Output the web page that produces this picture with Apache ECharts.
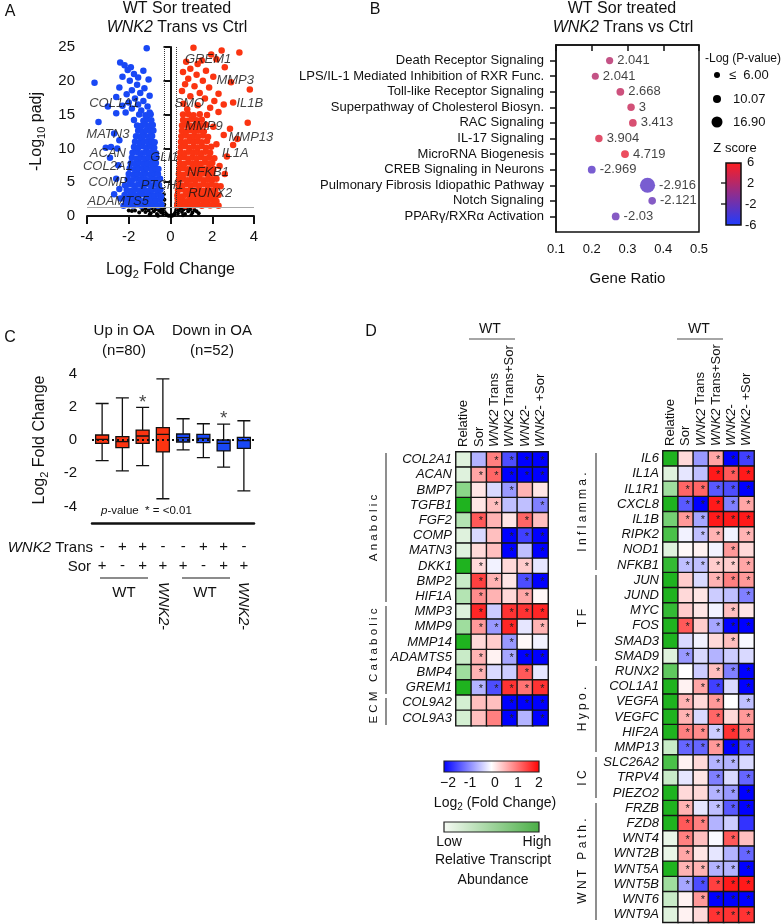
<!DOCTYPE html>
<html>
<head>
<meta charset="utf-8">
<script src="https://cdn.jsdelivr.net/npm/echarts@6/dist/echarts.min.js"></script>
<style>
  html, body { margin: 0; padding: 0; background: #fff; }
  #chart { width: 781px; height: 924px; }
</style>
</head>
<body>
<div id="chart"></div>
<script>
const FONT = "'Liberation Sans', Arial, sans-serif"

// ---------- A: volcano ----------
const downGenes = [
  [-1.14,24.8],[-2.41,22.7],[-2.2,22.3],[-2.05,21.6],[-1.9,22.0],[-1.3,21.5],[-1.75,21.0],[-1.55,20.5],[-1.05,20.2],[-2.3,20.6],
  [-1.95,20.0],[-3.64,19.7],[-1.6,19.4],[-2.45,19.0],[-1.25,18.9],[-1.85,18.6],[-1.45,18.2],[-2.1,18.0],[-1.0,17.8],[-2.6,17.6],
  [-1.7,17.4],[-3.0,16.2],[-1.3,17.0],[-2.0,16.8],[-1.55,16.5],[-2.3,16.3],[-1.1,16.2],[-1.85,15.9],[-3.45,13.9],[-2.6,15.2],
  [-1.4,15.6],[-2.15,15.3],[-1.0,15.3],[-3.1,10.1],[-2.85,10.2],[-2.55,10.0],[-2.9,8.6],[-2.7,12.2],[-2.45,11.2],[-2.5,7.5],
  [-2.6,5.5],[-2.45,4.0],[-2.4,2.6],[-2.7,3.2],
  [-2.25,1.5],[-2.02,1.7],[-1.8,1.55],[-1.6,1.8],[-1.4,1.5],[-1.2,1.75],[-1.0,1.55],[-0.8,1.7],[-0.6,1.5],[-0.42,1.65],
  [-2.15,2.35],[-1.93,2.2],[-1.72,2.45],[-1.5,2.3],[-1.3,2.2],[-1.1,2.45],[-0.9,2.3],[-0.7,2.25],[-0.5,2.4],
  [-2.2,3.1],[-1.98,2.95],[-1.78,3.15],[-1.55,3.0],[-1.35,3.2],[-1.15,2.95],[-0.95,3.1],[-0.75,3.0],[-0.56,3.15],[-0.44,2.9],
  [-2.1,3.85],[-1.9,3.7],[-1.68,3.9],[-1.48,3.75],[-1.28,3.95],[-1.08,3.7],[-0.88,3.85],[-0.66,3.8],[-0.48,3.9],
  [-2.18,4.55],[-1.95,4.7],[-1.75,4.5],[-1.55,4.65],[-1.35,4.55],[-1.15,4.7],[-0.95,4.5],[-0.75,4.65],[-0.55,4.6],
  [-2.05,5.45],[-1.85,5.3],[-1.62,5.5],[-1.42,5.35],[-1.22,5.45],[-1.02,5.3],[-0.82,5.5],[-0.62,5.35],[-0.5,5.5],
  [-2.0,6.2],[-1.78,6.1],[-1.58,6.3],[-1.38,6.15],[-1.18,6.25],[-0.98,6.1],[-0.78,6.3],[-0.6,6.2],
  [-1.95,7.05],[-1.72,6.9],[-1.52,7.1],[-1.32,6.95],[-1.12,7.05],[-0.92,6.9],[-0.72,7.1],[-0.58,6.95],
  [-1.9,7.8],[-1.7,7.7],[-1.5,7.9],[-1.3,7.75],[-1.1,7.85],[-0.9,7.7],[-0.7,7.85],
  [-1.85,8.6],[-1.65,8.5],[-1.45,8.7],[-1.25,8.55],[-1.05,8.65],[-0.88,8.5],[-0.68,8.65],
  [-1.82,9.35],[-1.6,9.45],[-1.4,9.3],[-1.2,9.45],[-1.0,9.35],[-0.82,9.5],[-0.7,9.3],
  [-1.75,10.2],[-1.55,10.1],[-1.35,10.3],[-1.15,10.15],[-0.95,10.25],[-0.78,10.1],
  [-1.7,11.0],[-1.5,10.9],[-1.3,11.1],[-1.1,10.95],[-0.9,11.05],[-0.76,10.9],
  [-1.65,11.8],[-1.45,11.7],[-1.25,11.9],[-1.05,11.75],[-0.88,11.85],
  [-1.55,12.6],[-1.35,12.5],[-1.15,12.7],[-0.95,12.55],[-0.82,12.65],
  [-1.6,13.4],[-1.4,13.3],[-1.2,13.5],[-1.0,13.35],[-0.85,13.45],
  [-1.75,14.2],[-1.3,14.1],[-1.1,14.3],[-0.92,14.15],
  [-1.5,15.0],[-1.2,14.9],[-0.95,15.05]
]
const upGenes = [
  [1.1,24.9],[2.45,24.5],[3.3,24.2],[1.95,23.9],[2.2,23.2],[1.5,23.0],[0.75,22.8],[1.3,22.5],[2.6,22.0],[0.95,21.8],
  [1.7,21.5],[0.6,21.3],[1.25,20.9],[2.05,20.6],[0.85,20.3],[1.55,20.0],[2.9,19.8],[0.7,19.5],[1.15,19.2],[1.85,19.0],
  [3.8,18.7],[0.55,18.5],[1.4,18.2],[2.3,18.1],[0.95,17.7],[1.65,17.4],[2.1,17.0],[3.0,16.8],[0.62,16.6],[1.3,16.4],
  [2.55,16.5],[1.9,16.0],[0.8,15.8],[2.3,15.4],[3.7,13.8],[2.85,12.9],[3.2,11.4],[2.55,12.0],[3.0,10.5],[2.7,8.8],
  [2.4,4.4],[2.6,6.2],[2.2,2.2],[2.05,13.2],[2.2,10.6],[2.35,7.4],
  [0.32,1.55],[0.5,1.7],[0.7,1.5],[0.9,1.75],[1.1,1.55],[1.3,1.7],[1.5,1.5],[1.7,1.75],[1.9,1.55],[2.1,1.7],[2.3,1.5],
  [0.35,2.3],[0.55,2.45],[0.75,2.2],[0.95,2.4],[1.15,2.25],[1.35,2.45],[1.55,2.3],[1.75,2.2],[1.95,2.4],[2.15,2.3],
  [0.33,3.05],[0.52,2.9],[0.72,3.15],[0.92,3.0],[1.12,3.1],[1.32,2.95],[1.52,3.15],[1.72,3.0],[1.92,3.1],[2.12,2.95],[2.3,3.1],
  [0.36,3.8],[0.56,3.95],[0.76,3.7],[0.96,3.9],[1.16,3.75],[1.36,3.9],[1.56,3.7],[1.76,3.85],[1.96,3.75],[2.15,3.9],
  [0.38,4.6],[0.58,4.5],[0.78,4.7],[0.98,4.55],[1.18,4.65],[1.38,4.5],[1.58,4.7],[1.78,4.55],[1.98,4.65],[2.18,4.5],
  [0.4,5.4],[0.6,5.5],[0.8,5.3],[1.0,5.45],[1.2,5.35],[1.4,5.5],[1.6,5.3],[1.8,5.45],[2.0,5.35],[2.2,5.5],
  [0.4,6.2],[0.6,6.1],[0.8,6.3],[1.0,6.15],[1.2,6.25],[1.4,6.1],[1.6,6.3],[1.8,6.15],[2.0,6.25],
  [0.42,7.0],[0.62,7.1],[0.82,6.9],[1.02,7.05],[1.22,6.95],[1.42,7.1],[1.62,6.9],[1.82,7.05],[2.05,6.95],
  [0.45,7.8],[0.65,7.7],[0.85,7.9],[1.05,7.75],[1.25,7.85],[1.45,7.7],[1.65,7.9],[1.85,7.75],[2.0,7.85],
  [0.45,8.6],[0.65,8.7],[0.85,8.5],[1.05,8.65],[1.25,8.55],[1.45,8.7],[1.65,8.5],[1.85,8.65],[2.1,8.55],
  [0.48,9.4],[0.68,9.3],[0.88,9.5],[1.08,9.35],[1.28,9.45],[1.48,9.3],[1.68,9.5],[1.9,9.35],
  [0.5,10.2],[0.7,10.3],[0.9,10.1],[1.1,10.25],[1.3,10.15],[1.5,10.3],[1.7,10.1],[1.95,10.25],
  [0.5,11.0],[0.7,10.9],[0.9,11.1],[1.1,10.95],[1.3,11.05],[1.5,10.9],[1.75,11.1],
  [0.52,11.8],[0.72,11.9],[0.92,11.7],[1.12,11.85],[1.32,11.75],[1.55,11.9],[1.8,11.7],
  [0.55,12.6],[0.75,12.5],[0.95,12.7],[1.15,12.55],[1.35,12.65],[1.6,12.5],
  [0.55,13.4],[0.75,13.5],[0.95,13.3],[1.2,13.45],[1.45,13.35],[1.7,13.5],
  [0.6,14.2],[0.8,14.1],[1.0,14.3],[1.25,14.15],[1.5,14.25],
  [0.6,15.0],[0.85,15.1],[1.1,14.9],[1.4,15.05],[1.75,14.95]
]
const nsGenes = [
  [-2.0,0.8],[-1.85,0.75],[-1.7,0.8],[-1.5,0.5],[-1.35,0.9],[-1.2,0.6],[-1.2,1.1],[-1.05,0.8],[-0.95,0.4],[-0.9,1.15],
  [-0.8,0.7],[-0.7,1.0],[-0.65,0.3],[-0.55,0.8],[-0.5,1.15],[-0.45,0.5],[-0.38,0.9],[-0.33,0.25],[-0.3,1.2],[-0.28,0.6],
  [-0.22,0.35],[-0.18,0.15],[-0.12,0.06],[-0.06,0.02],[0.05,0.02],[0.1,0.06],[0.15,0.15],[0.2,0.3],[0.24,0.55],[0.27,0.9],
  [0.3,1.2],[0.35,0.4],[0.4,0.8],[0.48,1.1],[0.55,0.6],[0.62,0.95],[0.7,0.3],[0.78,1.1],[0.85,0.7],[0.95,1.0],
  [1.05,0.5],[1.15,0.9],[1.25,0.7],[1.35,0.4],[-0.3,1.7],[-0.29,2.4],[0.28,1.9],[0.29,2.6],[-0.32,3.2],[0.3,3.4],
  [-0.6,0.05],[0.6,0.1],[-1.0,0.2],[1.0,0.15]
]
const volcanoLabels = [
  [1.8,23.1,'GREM1'],[3.1,20.0,'MMP3'],[0.9,16.7,'SMO'],[3.8,16.7,'IL1B'],[1.6,13.2,'MMP9'],
  [3.85,11.7,'MMP13'],[3.1,9.3,'IL1A'],[1.8,6.4,'NFKB1'],[1.9,3.4,'RUNX2'],[-0.3,8.7,'GLI1'],
  [-0.4,4.6,'PTCH1'],[-2.7,16.7,'COL1A1'],[-3.0,12.0,'MATN3'],[-3.0,9.3,'ACAN'],[-3.0,7.3,'COL2A1'],
  [-3.0,4.9,'COMP'],[-2.5,2.2,'ADAMTS5']
]
const fcCut = [-0.3, 0.26]
const padjCut = 1.3

// ---------- B: pathways ----------
const pathways = [
  'Death Receptor Signaling', 'LPS/IL-1 Mediated Inhibition of RXR Func.', 'Toll-like Receptor Signaling',
  'Superpathway of Cholesterol Biosyn.', 'RAC Signaling', 'IL-17 Signaling', 'MicroRNA Biogenesis',
  'CREB Signaling in Neurons', 'Pulmonary Fibrosis Idiopathic Pathway', 'Notch Signaling', 'PPARγ/RXRα Activation'
]
const geneRatio = [0.25, 0.21, 0.28, 0.31, 0.315, 0.22, 0.293, 0.2, 0.356, 0.369, 0.267]
const zScores = [2.041, 2.041, 2.668, 3, 3.413, 3.904, 4.719, -2.969, -2.916, -2.121, -2.03]
const negLogP = [6.3, 6.1, 7.0, 6.6, 6.9, 6.6, 7.2, 7.1, 16.9, 6.8, 7.0]

// ---------- C: box plots ----------
const boxCats = ['up-wt-sor', 'up-wt-trans', 'up-wt-trans-sor', 'up-ko-sor', 'down-wt-sor', 'down-wt-trans', 'down-wt-trans-sor', 'down-ko-sor']
// [min, Q1, median, Q3, max]
const boxStats = [
  [-1.24, -0.2, 0.04, 0.3, 2.2],
  [-1.86, -0.46, -0.1, 0.2, 2.54],
  [-1.54, -0.2, 0.24, 0.6, 1.96],
  [-3.54, -0.72, 0.34, 0.74, 3.68],
  [-0.6, -0.12, 0.14, 0.36, 1.28],
  [-1.06, -0.16, 0.1, 0.34, 0.98],
  [-1.64, -0.66, -0.2, 0, 0.96],
  [-3.06, -0.5, -0.04, 0.16, 1.16]
]
const boxUp = [1, 1, 1, 1, 0, 0, 0, 0]
const boxStar = [0, 0, 1, 0, 0, 0, 1, 0]
const transRow = ['-', '+', '+', '-', '-', '+', '+', '-']
const sorRow = ['+', '-', '+', '+', '+', '-', '+', '+']

// ---------- D: heatmaps ----------
const heatCols = ['Relative', 'Sor', '{i|WNK2} Trans', '{i|WNK2} Trans+Sor', '{i|WNK2}-', '{i|WNK2}- +Sor']
const genesLeft = ['COL2A1','ACAN','BMP7','TGFB1','FGF2','COMP','MATN3','DKK1','BMP2','HIF1A',
  'MMP3','MMP9','MMP14','ADAMTS5','BMP4','GREM1','COL9A2','COL9A3']
const relLeft = [0.1, 0.1, 0.5, 1.0, 0.3, 0.1, 0.1, 1.0, 0.2, 0.3, 0.1, 0.4, 1.0, 0.2, 0.4, 1.0, 0.15, 0.15]
const fcLeft = [
  [-0.6, 1.0, -1.4, -2, -2],
  [0.7, 1.2, -2, -2, -2],
  [0.2, -0.3, -0.8, 0.6, 0.2],
  [0.2, 0.5, -0.5, -0.5, -1.0],
  [1.3, 0.6, 0.2, 1.2, 0.5],
  [-0.3, 0.5, -2, -1.5, -2],
  [0.3, 0.5, -2, -0.5, -2],
  [0.3, -0.1, 0.3, 0.4, -0.2],
  [1.5, 0.6, 0.2, -1.4, -2],
  [0.9, 0.6, 0.3, 0.7, 0.05],
  [1.7, -0.4, 1.6, 1.6, 1.7],
  [0.8, -0.8, 1.7, -0.2, 0.6],
  [0.3, 0.4, -0.8, 0.05, -0.1],
  [0.6, 0.1, -0.7, -2, -2],
  [0.6, -0.3, -0.4, 1.3, -0.2],
  [-0.6, -1.4, 1.6, 1.1, 1.6],
  [0.5, 0.5, -2, -2, -2],
  [0.5, 1.0, -2, -0.6, -2]
]
const starLeft = ['01111','11111','00100','01001','10010','00111','00101','10010','11011','10010',
  '10111','11101','00100','10111','10010','11111','00111','00101']

const genesRight = ['IL6','IL1A','IL1R1','CXCL8','IL1B','RIPK2','NOD1','NFKB1',
  'JUN','JUND','MYC','FOS','SMAD3','SMAD9',
  'RUNX2','COL1A1','VEGFA','VEGFC','HIF2A','MMP13',
  'SLC26A2','TRPV4','PIEZO2',
  'FRZB','FZD8','WNT4','WNT2B','WNT5A','WNT5B','WNT6','WNT9A']
const relRight = [1.0, 0.1, 0.4, 1.0, 0.6, 0.8, 0.1, 0.9, 1.0, 1.0, 0.9, 1.0, 1.0, 0.1,
  0.7, 1.0, 1.0, 1.0, 1.0, 0.2, 0.8, 0.2, 1.0, 1.0, 1.0, 0.05, 0.05, 1.0, 0.4, 0.2, 0.1]
const fcRight = [
  [0.3, -0.8, 0.7, -2, -1.5],
  [-0.2, -0.5, 1.8, 1.3, 1.8],
  [1.2, 1.2, -1.3, -1.4, -2],
  [-1.3, -2, 1.8, -1.0, 0.7],
  [0.8, -0.7, 1.8, 1.8, 1.8],
  [-0.1, -0.5, 0.6, -0.1, 0.6],
  [0.05, 0.1, -0.1, 0.8, 0.3],
  [-0.5, -0.5, 0.4, 0.4, 0.7],
  [0.4, -0.3, 0.6, 1.0, 0.8],
  [0.3, 0.2, -0.4, -0.5, -1.0],
  [0.4, 0.2, -0.1, 0.5, 0.2],
  [1.3, 0.4, -0.7, -2, -2],
  [-0.3, -0.1, 0.3, 0.5, -0.05],
  [-0.8, -0.3, -0.6, -0.4, -0.3],
  [0, -0.4, 0.5, -1.0, -2],
  [0.1, 0.7, -1.5, -0.3, -2],
  [0.6, 0.3, 0.8, 0, -0.5],
  [0.6, -0.3, 1.2, 0.3, 0.8],
  [1.0, 0.9, -0.4, 1.6, 1.0],
  [-1.2, -1.2, 0.8, -2, -1.3],
  [0.1, 0.3, -0.6, -0.6, -0.3],
  [-0.2, 0.2, -1.0, -0.3, -1.2],
  [0.3, 0.3, -0.6, -0.8, -2],
  [0.6, -0.2, -0.5, -1.3, -2],
  [1.3, 1.0, -0.6, -0.4, -1.6],
  [1.0, 0.5, -0.05, 1.3, 0.5],
  [0.7, 0.2, -0.2, -0.6, -1.2],
  [0.6, 0.6, -0.6, -0.6, -2],
  [-0.7, -1.4, 1.5, 1.8, 1.8],
  [0.1, 0.8, -2, -2, -2],
  [0.1, 0.3, 1.6, 1.6, 1.6]
]
const starRight = ['00111','00111','11111','11111','11111','01101','00010','11111',
  '00111','00001','00010','10111','00010','10000',
  '00111','01101','10101','10101','11111','11111',
  '00110','00101','00111',
  '10111','11000','10010','10001','11111','11111','01111','00111']

const RED = '#fb3411'
const BLUE = '#1948f5'

// 文字辅助
const richFor = (size, color) => ({
  i: { fontStyle: 'italic', fontSize: size, fontFamily: FONT, fill: color, color: color },
  sub: { fontSize: Math.round(size * 0.7), fontFamily: FONT, fill: color, color: color, padding: [Math.round(size * 0.55), 0, 0, 0] }
})

const txt = (x, y, text, o = {}) => ({
  type: 'text', x, y, rotation: o.rotation || 0, silent: true,
  style: {
    text, fill: o.color || '#111', fontSize: o.size || 14, fontFamily: FONT,
    fontStyle: o.italic ? 'italic' : 'normal',
    align: o.align || 'center', verticalAlign: 'middle',
    rich: richFor(o.size || 14, o.color || '#111')
  }
})
const seg = (x1, y1, x2, y2, color, w) => ({
  type: 'line', silent: true, shape: { x1, y1, x2, y2 }, style: { stroke: color || '#555', lineWidth: w || 1.5 }
})

const axisBase = {
  axisLine: { lineStyle: { color: '#111', width: 2 } },
  axisTick: { lineStyle: { color: '#111', width: 2 } },
  splitLine: { show: false },
  axisLabel: { color: '#111', fontFamily: FONT }
}

// heatmap data
const relData = rel => rel.map((v, i) => [0, i, v])
const fcData = fc => {
  const out = []
  fc.forEach((row, i) => row.forEach((v, j) => out.push([j + 1, i, v])))
  return out
}

const heatX = gridIndex => ({
  type: 'category', gridIndex, data: heatCols, position: 'top',
  axisLine: { show: false }, axisTick: { show: false }, splitLine: { show: false },
  axisLabel: { rotate: -90, margin: 5, fontSize: 13, color: '#111', fontFamily: FONT, interval: 0,
    rich: { i: { fontStyle: 'italic', fontSize: 13, color: '#111', fontFamily: FONT } } }
})
const heatY = (gridIndex, genes) => ({
  type: 'category', gridIndex, data: genes, inverse: true,
  axisLine: { show: false }, axisTick: { show: false }, splitLine: { show: false },
  axisLabel: { margin: 4, fontSize: 13, fontStyle: 'italic', color: '#111', fontFamily: FONT, interval: 0 }
})
const heatSeries = (name, xi, data, stars) => ({
  type: 'heatmap', name, xAxisIndex: xi, yAxisIndex: xi, data,
  itemStyle: { borderColor: '#151515', borderWidth: 1.4 },
  emphasis: { disabled: true },
  label: {
    show: !!stars, fontSize: 11, color: '#222', offset: [2, 1],
    formatter: p => (stars && stars[p.data[1]][p.data[0] - 1] === '1') ? '*' : ''
  }
})

const graphics = [
  // panel letters
  txt(10, 12, 'A', { size: 16 }), txt(375, 10, 'B', { size: 16 }),
  txt(10, 338, 'C', { size: 16 }), txt(371, 332, 'D', { size: 16 }),
  // titles
  txt(177, 9, 'WT Sor treated', { size: 16 }), txt(177, 28, '{i|WNK2} Trans vs Ctrl', { size: 16 }),
  txt(622, 9, 'WT Sor treated', { size: 16 }), txt(623, 28, '{i|WNK2} Trans vs Ctrl', { size: 16 }),
  // B size legend
  txt(705, 59, '-Log (P-value)', { size: 12, align: 'left' }),
  { type: 'circle', silent: true, shape: { cx: 717, cy: 75, r: 3 }, style: { fill: '#000' } },
  { type: 'circle', silent: true, shape: { cx: 717, cy: 99, r: 4 }, style: { fill: '#000' } },
  { type: 'circle', silent: true, shape: { cx: 717, cy: 122, r: 5.5 }, style: { fill: '#000' } },
  txt(729, 75, '≤  6.00', { size: 13, align: 'left' }),
  txt(733, 99, '10.07', { size: 13, align: 'left' }),
  txt(733, 122, '16.90', { size: 13, align: 'left' }),
  txt(735, 148, 'Z score', { size: 13 }),
  { type: 'rect', silent: true, shape: { x: 726, y: 163, width: 15, height: 62 },
    style: { stroke: '#111', lineWidth: 1.5,
      fill: new echarts.graphic.LinearGradient(0, 0, 0, 1, [{ offset: 0, color: '#ff1e1e' }, { offset: 1, color: '#1e3cff' }]) } },
  seg(721, 183, 726, 183, '#111', 1.3), seg(721, 204, 726, 204, '#111', 1.3),
  txt(747, 162, '6', { size: 13, align: 'left' }), txt(747, 183, '2', { size: 13, align: 'left' }),
  txt(745, 204, '-2', { size: 13, align: 'left' }), txt(745, 225, '-6', { size: 13, align: 'left' }),
  // C headers and footers
  txt(124, 331, 'Up in OA', { size: 15 }), txt(124, 351, '(n=80)', { size: 15 }),
  txt(212, 331, 'Down in OA', { size: 15 }), txt(212, 351, '(n=52)', { size: 15 }),
  txt(101, 511, '{i|p}-value  * = <0.01', { size: 11.5, align: 'left' }),
  txt(93, 548, '{i|WNK2} Trans', { size: 15, align: 'right' }),
  txt(91, 567, 'Sor', { size: 15, align: 'right' }),
  seg(100, 578, 148, 578, '#666', 1.5), seg(182, 578, 230, 578, '#666', 1.5),
  txt(124, 593, 'WT', { size: 15 }), txt(205, 593, 'WT', { size: 15 }),
  txt(163, 582, '{i|WNK2}-', { size: 15, align: 'left', rotation: -Math.PI / 2 }),
  txt(243, 582, '{i|WNK2}-', { size: 15, align: 'left', rotation: -Math.PI / 2 }),
  // D: WT brackets
  txt(490, 329, 'WT', { size: 14 }), seg(469, 339, 515, 339, '#888', 1.5),
  txt(699, 329, 'WT', { size: 14 }), seg(677, 339, 723, 339, '#888', 1.5),
  // D left groups
  seg(386, 453, 386, 602, '#444', 1.2), seg(386, 606, 386, 694, '#444', 1.2), seg(386, 698, 386, 725, '#444', 1.2),
  txt(374, 528, 'A n a b o l i c', { size: 11.5, rotation: Math.PI / 2 }),
  txt(374, 666, 'E C M   C a t a b o l i c', { size: 11.5, rotation: Math.PI / 2 }),
  // D right groups
  seg(596, 453, 596, 570, '#444', 1.2), seg(596, 575, 596, 661, '#444', 1.2), seg(596, 666, 596, 752, '#444', 1.2),
  seg(596, 757, 596, 798, '#444', 1.2), seg(596, 803, 596, 920, '#444', 1.2),
  txt(583, 512, 'I n f l a m m a .', { size: 12, rotation: Math.PI / 2 }),
  txt(583, 618, 'T F', { size: 12, rotation: Math.PI / 2 }),
  txt(583, 709, 'H y p o .', { size: 12, rotation: Math.PI / 2 }),
  txt(583, 778, 'I C', { size: 12, rotation: Math.PI / 2 }),
  txt(583, 861, 'W N T   P a t h .', { size: 12, rotation: Math.PI / 2 }),
  // D legends
  { type: 'rect', silent: true, shape: { x: 444, y: 761, width: 95, height: 11 },
    style: { stroke: '#222', lineWidth: 1.2,
      fill: new echarts.graphic.LinearGradient(0, 0, 1, 0, [{ offset: 0, color: '#0000ff' }, { offset: 0.5, color: '#ffffff' }, { offset: 1, color: '#ff0000' }]) } },
  txt(448, 783, '−2', { size: 14 }), txt(470, 783, '-1', { size: 14 }), txt(495, 783, '0', { size: 14 }),
  txt(518, 783, '1', { size: 14 }), txt(539, 783, '2', { size: 14 }),
  txt(495, 803, 'Log{sub|2} (Fold Change)', { size: 14 }),
  { type: 'rect', silent: true, shape: { x: 444, y: 822, width: 95, height: 10 },
    style: { stroke: '#222', lineWidth: 1.2,
      fill: new echarts.graphic.LinearGradient(0, 0, 1, 0, [{ offset: 0, color: '#f6faf4' }, { offset: 1, color: '#4aae46' }]) } },
  txt(449, 842, 'Low', { size: 14 }), txt(537, 842, 'High', { size: 14 }),
  txt(493, 860, 'Relative Transcript', { size: 14 }), txt(493, 880, 'Abundance', { size: 14 })
]

const option = {
  animation: false,
  backgroundColor: '#fff',
  textStyle: { fontFamily: FONT },
  grid: [
    { left: 87, top: 47, width: 167, height: 169 },
    { left: 556, top: 45, width: 143, height: 187, show: true, borderColor: '#111', borderWidth: 1.5, backgroundColor: 'transparent' },
    { left: 92, top: 357, width: 162, height: 166 },
    { left: 456, top: 452, width: 92, height: 273.6 },
    { left: 663, top: 451, width: 91, height: 471.2 }
  ],
  xAxis: [
    { ...axisBase, type: 'value', gridIndex: 0, min: -4, max: 4, interval: 2,
      axisTick: { length: 8, lineStyle: { color: '#111', width: 2 } },
      axisLabel: { color: '#111', fontSize: 15, margin: 13, fontFamily: FONT },
      name: 'Log{sub|2} Fold Change', nameLocation: 'middle', nameGap: 44,
      nameTextStyle: { fontSize: 16, color: '#111', fontFamily: FONT, rich: richFor(16, '#111') } },
    { ...axisBase, type: 'value', gridIndex: 1, min: 0.1, max: 0.5,
      axisLine: { lineStyle: { color: '#111', width: 1.5 } },
      axisTick: { length: 6, customValues: [0.1, 0.2, 0.3, 0.4, 0.5], lineStyle: { color: '#111', width: 1.5 } },
      axisLabel: { color: '#111', fontSize: 13, margin: 11, fontFamily: FONT, customValues: [0.1, 0.2, 0.3, 0.4, 0.5] },
      name: 'Gene Ratio', nameLocation: 'middle', nameGap: 39,
      nameTextStyle: { fontSize: 15, color: '#111', fontFamily: FONT } },
    { ...axisBase, type: 'category', gridIndex: 2, data: boxCats,
      axisLine: { onZero: false, lineStyle: { color: '#111', width: 2.5 } },
      axisTick: { alignWithLabel: true, length: 8, lineStyle: { color: '#111', width: 2.5 } },
      axisLabel: { color: '#111', fontSize: 15, margin: 14, lineHeight: 19, fontFamily: FONT, interval: 0,
        formatter: (v, i) => transRow[i] + '\n' + sorRow[i] } },
    heatX(3),
    heatX(4)
  ],
  yAxis: [
    { ...axisBase, type: 'value', gridIndex: 0, min: 0, max: 25, interval: 5,
      axisTick: { length: 7, lineStyle: { color: '#111', width: 2 } },
      axisLabel: { color: '#111', fontSize: 15, margin: 12, fontFamily: FONT },
      name: '-Log{sub|10} padj', nameLocation: 'middle', nameGap: 40,
      nameTextStyle: { fontSize: 16, color: '#111', fontFamily: FONT, rich: richFor(16, '#111') } },
    { ...axisBase, type: 'value', gridIndex: 1, min: 0, max: 12, inverse: true,
      axisLine: { lineStyle: { color: '#111', width: 1.5 } },
      axisTick: { length: 6, customValues: [1, 2, 3, 4, 5, 6, 7, 8, 9, 10, 11], lineStyle: { color: '#111', width: 1.5 } },
      axisLabel: { color: '#111', fontSize: 13, margin: 12, fontFamily: FONT,
        customValues: [1, 2, 3, 4, 5, 6, 7, 8, 9, 10, 11], formatter: v => pathways[v - 1] || '' } },
    { ...axisBase, type: 'value', gridIndex: 2, min: -5, max: 5,
      axisLine: { lineStyle: { color: '#111', width: 2.5 } },
      axisTick: { length: 7, customValues: [-4, -2, 0, 2, 4], lineStyle: { color: '#111', width: 2.5 } },
      axisLabel: { color: '#111', fontSize: 15, margin: 15, fontFamily: FONT, customValues: [-4, -2, 0, 2, 4] },
      name: 'Log{sub|2} Fold Change', nameLocation: 'middle', nameGap: 42,
      nameTextStyle: { fontSize: 16, color: '#111', fontFamily: FONT, rich: richFor(16, '#111') } },
    heatY(3, genesLeft),
    heatY(4, genesRight)
  ],
  visualMap: [
    { show: false, type: 'continuous', seriesIndex: 4, dimension: 2, min: -6, max: 6,
      inRange: { color: ['#1e3cff', '#ff1e1e'] } },
    { show: false, type: 'continuous', seriesIndex: [8, 10], dimension: 2, min: 0, max: 1,
      inRange: { color: ['#f4f9f2', '#1fb31f'] } },
    { show: false, type: 'continuous', seriesIndex: [9, 11], dimension: 2, min: -2, max: 2,
      inRange: { color: ['#0000ff', '#ffffff', '#ff0000'] } }
  ],
  series: [
    { type: 'scatter', xAxisIndex: 0, yAxisIndex: 0, data: downGenes, symbolSize: 6.5, itemStyle: { color: BLUE, opacity: 1 }, z: 3 },
    { type: 'scatter', xAxisIndex: 0, yAxisIndex: 0, data: upGenes, symbolSize: 6.5, itemStyle: { color: RED, opacity: 1 }, z: 3 },
    { type: 'scatter', xAxisIndex: 0, yAxisIndex: 0, data: nsGenes, symbolSize: 4, itemStyle: { color: '#000', opacity: 1 }, z: 2,
      markLine: {
        silent: true, symbol: ['none', 'none'], label: { show: false }, animation: false,
        data: [
          { xAxis: fcCut[0], lineStyle: { color: '#333', type: 'dotted', width: 1 } },
          { xAxis: fcCut[1], lineStyle: { color: '#333', type: 'dotted', width: 1 } },
          { yAxis: padjCut, lineStyle: { color: '#aaa', type: 'solid', width: 1 } }
        ]
      } },
    { type: 'scatter', xAxisIndex: 0, yAxisIndex: 0, data: volcanoLabels, symbolSize: 1, z: 5,
      itemStyle: { color: 'rgba(0,0,0,0)' },
      label: { show: true, position: 'inside', formatter: p => p.data[2], fontSize: 13, fontStyle: 'italic', color: '#111', fontFamily: FONT } },
    { type: 'scatter', xAxisIndex: 1, yAxisIndex: 1, z: 3,
      data: pathways.map((p, i) => [geneRatio[i], i + 1, zScores[i], negLogP[i]]),
      symbolSize: v => 7 + (v[3] - 6) * 0.75,
      label: { show: true, position: 'right', distance: 4, fontSize: 13, color: '#111', fontFamily: FONT, formatter: p => String(p.data[2]) } },
    { type: 'line', xAxisIndex: 2, yAxisIndex: 2, data: [], z: 1,
      markLine: { silent: true, symbol: ['none', 'none'], label: { show: false }, animation: false,
        data: [{ yAxis: 0, lineStyle: { color: '#111', type: [2, 3], width: 2 } }] } },
    { type: 'boxplot', xAxisIndex: 2, yAxisIndex: 2, z: 3, boxWidth: [13, 13],
      data: boxStats.map((s, i) => ({ value: s, itemStyle: { color: boxUp[i] ? RED : BLUE, borderColor: '#111', borderWidth: 1.3 } })) },
    { type: 'scatter', xAxisIndex: 2, yAxisIndex: 2, z: 4, symbolSize: 1, itemStyle: { color: 'rgba(0,0,0,0)' },
      data: boxStats.map((s, i) => boxStar[i] ? [i, s[4] + 0.3] : null).filter(d => d),
      label: { show: true, position: 'inside', formatter: '*', fontSize: 19, color: '#111', fontFamily: FONT } },
    heatSeries('relLeft', 3, relData(relLeft), null),
    heatSeries('fcLeft', 3, fcData(fcLeft), starLeft),
    heatSeries('relRight', 4, relData(relRight), null),
    heatSeries('fcRight', 4, fcData(fcRight), starRight)
  ],
  graphic: graphics
}

const chart = echarts.init(document.getElementById('chart'), null, { renderer: 'canvas' })
chart.setOption(option)
</script>
</body>
</html>
